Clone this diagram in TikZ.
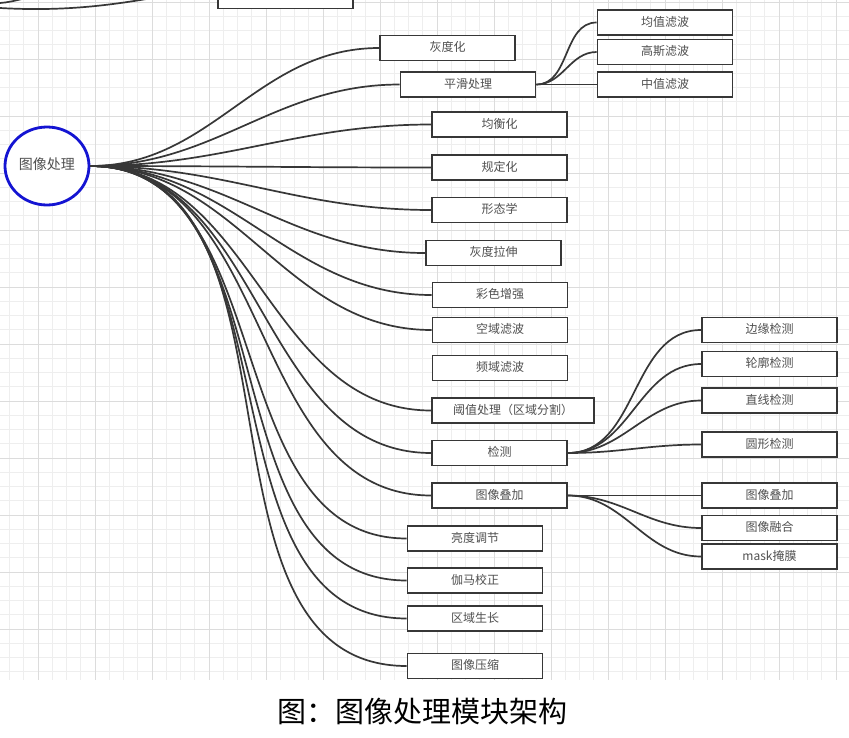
\documentclass[tikz,border=0pt]{standalone}
\usepackage{fontspec}
\newfontfamily\cjk{Noto Sans CJK SC}
\usetikzlibrary{shapes.geometric}
\definecolor{rootblue}{RGB}{20,20,210}
\definecolor{boxgray}{RGB}{55,55,55}
\definecolor{txtgray}{RGB}{80,80,80}
\definecolor{gridminor}{RGB}{238,238,238}
\definecolor{gridmajor}{RGB}{220,220,220}
\begin{document}
\begin{tikzpicture}[x=1pt,y=-1pt,
	box/.style={draw=boxgray,line width=1.7pt,fill=white,minimum width=135pt,minimum height=25pt,inner sep=0pt,text=txtgray,font=\cjk\fontsize{12}{12}\selectfont,text height=0.88em,text depth=0.12em},
	rootnode/.style={ellipse,draw=rootblue,line width=2.8pt,fill=white,minimum width=84pt,minimum height=78pt,inner sep=0pt,text=txtgray,font=\cjk\fontsize{14}{14}\selectfont,text height=0.88em,text depth=0.12em},
	link/.style={draw=boxgray,line width=1.7pt},
	captext/.style={font=\cjk\fontsize{29}{29}\selectfont,text=black,inner sep=0pt}]
			\useasboundingbox (0,0) rectangle (849,737);
			\fill[white] (0,0) rectangle (849,737);
			% grid
			\foreach \i in {0,...,58} \draw[gridminor,line width=1pt] ({9.5+14.25*\i},0) -- ({9.5+14.25*\i},680);
			\foreach \i in {0,...,47} \draw[gridminor,line width=1pt] (0,{2+14.25*\i}) -- (849,{2+14.25*\i});
			\foreach \i in {0,...,14} \draw[gridmajor,line width=1pt] ({38+57*\i},0) -- ({38+57*\i},680);
			\foreach \i in {0,...,11} \draw[gridmajor,line width=1pt] (0,{2+57*\i}) -- (849,{2+57*\i});
			% cut branch at the top
			\coordinate (offA) at (0,8);
			\coordinate (offB) at (0,3);
			\coordinate (offC) at (175,-6);
			\coordinate (offD) at (45,-6);
			\draw[link] (offA) .. controls (70,12) and (120,4) .. (offC);
			\draw[link] (offB) .. controls (15,2) and (30,-4) .. (offD);
			\node[box] (topbox) at (285.5,-4) {};
			% nodes
			\node[rootnode] (root) at (47,166) {图像处理};
			\node[box] (gray) at (447.5,48) {灰度化};
			\node[box] (smooth) at (468,84.5) {平滑处理};
			\node[box] (mean) at (665,22.5) {均值滤波};
			\node[box] (gauss) at (665,52) {高斯滤波};
			\node[box] (median) at (665,84.5) {中值滤波};
			\node[box] (equal) at (499.5,124.5) {均衡化};
			\node[box] (spec) at (499.5,167.5) {规定化};
			\node[box] (morph) at (499.5,210) {形态学};
			\node[box] (stretch) at (493.5,253) {灰度拉伸};
			\node[box] (color) at (500,295) {彩色增强};
			\node[box] (spatial) at (500,330) {空域滤波};
			\node[box] (freq) at (500,368) {频域滤波};
			\node[box,minimum width=162pt] (thresh) at (513,410.5) {阈值处理（区域分割）};
			\node[box] (detect) at (499.5,453) {检测};
			\node[box] (overlay) at (499.5,495.5) {图像叠加};
			\node[box] (edge) at (769.5,330) {边缘检测};
			\node[box] (contour) at (769.5,364) {轮廓检测};
			\node[box] (straight) at (769.5,400.5) {直线检测};
			\node[box] (circ) at (769.5,444.5) {圆形检测};
			\node[box] (overlayB) at (769.5,495.5) {图像叠加};
			\node[box] (fuse) at (769.5,528) {图像融合};
			\node[box] (mask) at (769.5,556.5) {mask掩膜};
			\node[box] (bright) at (475,538.5) {亮度调节};
			\node[box] (gamma) at (475,580.5) {伽马校正};
			\node[box] (region) at (475,618.5) {区域生长};
			\node[box] (compress) at (475,666) {图像压缩};
			% connectors
			\foreach \b in {gray,smooth,equal,spec,morph,stretch,color,spatial,thresh,detect,overlay,bright,gamma,region,compress}
				\draw[link] (root.east) to[out=0,in=180] (\b.west);
			\foreach \b in {mean,gauss,median}
				\draw[link] (smooth.east) to[out=0,in=180] (\b.west);
			\foreach \b in {edge,contour,straight,circ}
				\draw[link] (detect.east) to[out=0,in=180] (\b.west);
			\foreach \b in {overlayB,fuse,mask}
				\draw[link] (overlay.east) to[out=0,in=180] (\b.west);
			% caption
			\node[captext] (caption) at (422,711) {图：图像处理模块架构};
		\end{tikzpicture}
\end{document}
